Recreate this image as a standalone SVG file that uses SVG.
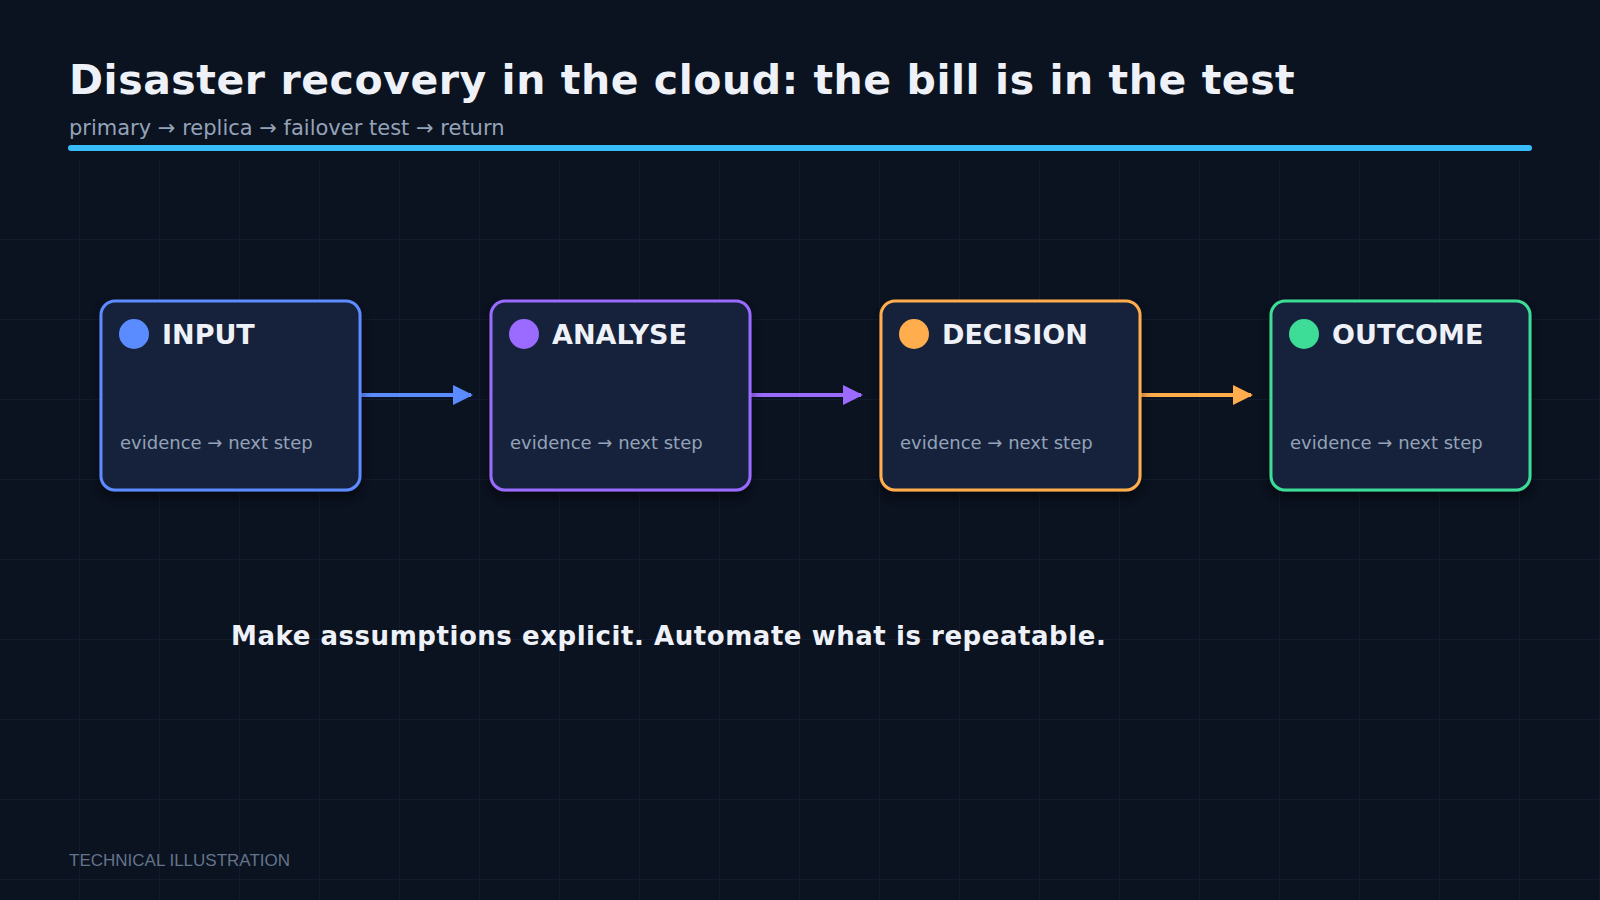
<svg xmlns="http://www.w3.org/2000/svg" width="1600" height="900" viewBox="0 0 1600 900">
<defs>
<pattern id="grid" width="80" height="80" patternUnits="userSpaceOnUse" x="0" y="0">
<path d="M80 0V80M0 80H80" fill="none" stroke="#15243a" stroke-width="1"/>
</pattern>
<filter id="sh" x="-20%" y="-20%" width="140%" height="140%"><feDropShadow dx="0" dy="6" stdDeviation="6" flood-color="#000" flood-opacity="0.5"/></filter>
<marker id="ab" viewBox="0 0 10 10" refX="9" refY="5" markerWidth="5" markerHeight="5" orient="auto"><path d="M0 0L10 5L0 10z" fill="#5b8cff"/></marker>
<marker id="ap" viewBox="0 0 10 10" refX="9" refY="5" markerWidth="5" markerHeight="5" orient="auto"><path d="M0 0L10 5L0 10z" fill="#9b6bff"/></marker>
<marker id="ao" viewBox="0 0 10 10" refX="9" refY="5" markerWidth="5" markerHeight="5" orient="auto"><path d="M0 0L10 5L0 10z" fill="#ffad4d"/></marker>
</defs>
<style>
.box{fill:#13213b;stroke-width:3}
.lbl{font-family:"DejaVu Sans",sans-serif;font-weight:bold;font-size:27px;fill:#eef2f8}
.sub{font-family:"DejaVu Sans",sans-serif;font-size:18px;fill:#94a3b8}
.c{stroke-width:4;fill:none}
</style>
<rect width="1600" height="900" fill="#0b1220"/>
<rect y="160" width="1600" height="740" fill="url(#grid)"/>
<text x="69" y="94" font-family="DejaVu Sans,sans-serif" font-weight="bold" font-size="41" letter-spacing="0.55" fill="#eef2f8">Disaster recovery in the cloud: the bill is in the test</text>
<text x="69" y="135" font-family="DejaVu Sans,sans-serif" font-size="21" fill="#94a3b8">primary → replica → failover test → return</text>
<line x1="71" y1="148" x2="1529" y2="148" stroke="#38bdf8" stroke-width="6" stroke-linecap="round"/>
<g id="connectors">
<line class="c" x1="360" y1="395" x2="471" y2="395" stroke="#5b8cff" marker-end="url(#ab)"/>
<line class="c" x1="750" y1="395" x2="861" y2="395" stroke="#9b6bff" marker-end="url(#ap)"/>
<line class="c" x1="1140" y1="395" x2="1251" y2="395" stroke="#ffad4d" marker-end="url(#ao)"/>
</g>
<g id="input"><rect class="box" x="101" y="301" width="259" height="189" rx="14" stroke="#5b8cff" filter="url(#sh)"/><circle cx="134" cy="334" r="15" fill="#5b8cff"/><text class="lbl" x="162" y="344">INPUT</text><text class="sub" x="120" y="449">evidence → next step</text></g>
<g id="analyse"><rect class="box" x="491" y="301" width="259" height="189" rx="14" stroke="#9b6bff" filter="url(#sh)"/><circle cx="524" cy="334" r="15" fill="#9b6bff"/><text class="lbl" x="552" y="344">ANALYSE</text><text class="sub" x="510" y="449">evidence → next step</text></g>
<g id="decision"><rect class="box" x="881" y="301" width="259" height="189" rx="14" stroke="#ffad4d" filter="url(#sh)"/><circle cx="914" cy="334" r="15" fill="#ffad4d"/><text class="lbl" x="942" y="344">DECISION</text><text class="sub" x="900" y="449">evidence → next step</text></g>
<g id="outcome"><rect class="box" x="1271" y="301" width="259" height="189" rx="14" stroke="#3ddc97" filter="url(#sh)"/><circle cx="1304" cy="334" r="15" fill="#3ddc97"/><text class="lbl" x="1332" y="344">OUTCOME</text><text class="sub" x="1290" y="449">evidence → next step</text></g>
<text x="231" y="645" font-family="DejaVu Sans,sans-serif" font-weight="bold" font-size="26" letter-spacing="0.55" fill="#eef2f8">Make assumptions explicit. Automate what is repeatable.</text>
<text x="69" y="866" font-family="Liberation Sans,sans-serif" font-size="17" fill="#64748b">TECHNICAL ILLUSTRATION</text>
</svg>
